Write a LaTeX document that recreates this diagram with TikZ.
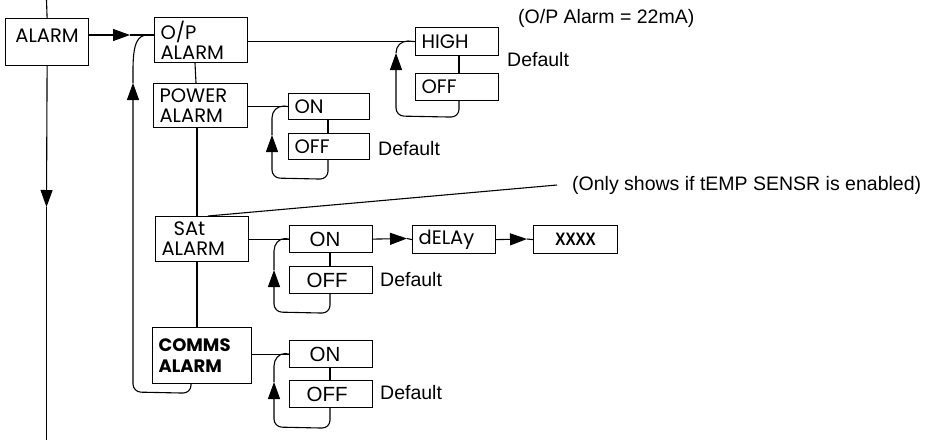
\documentclass[tikz,border=0pt]{standalone}
\usepackage{fontspec}
\setmainfont{Liberation Sans}
\newfontfamily\boxfont{Poppins}
\usetikzlibrary{arrows.meta,calc}
\tikzset{
  box/.style={draw, line width=1.2pt, anchor=north west, inner xsep=6pt, inner ysep=0pt, align=left,
              font=\boxfont\fontsize{19.5}{20}\selectfont},
  onoff/.style={box, font=\fontsize{20.5}{21}\selectfont},
  ln/.style={line width=1.1pt},
  arr/.style={ln, -{Triangle[length=17pt,width=12pt]}},
  note/.style={anchor=west, inner sep=0pt, font=\fontsize{19.5}{22}\selectfont},
}
\begin{document}
\begin{tikzpicture}[x=1pt,y=-1pt]
\useasboundingbox (0,0) rectangle (933,440);
% boxes
\node[box, minimum width=83pt, minimum height=47pt, text width=71pt, align=center] (alarm) at (5,18) {\raisebox{6pt}[\height][\depth]{ALARM}};
\node[box, minimum width=93pt, minimum height=45pt, text width=81pt] (op) at (154,17) {O/P\\ALARM};
\node[box, minimum width=94pt, minimum height=44pt, text width=82pt] (power) at (153,83) {POWER\\ALARM};
\node[box, minimum width=93pt, minimum height=45pt, text width=81pt] (sat) at (155,216) {\hspace*{12pt}SAt\\ALARM};
\node[box, minimum width=99pt, minimum height=56pt, text width=87pt, font=\boxfont\bfseries\fontsize{18}{21}\selectfont] (comms) at (152,327) {COMMS\\ALARM};
\node[box, minimum width=83pt, minimum height=28pt, text width=71pt] (high) at (415,27) {HIGH};
\node[box, minimum width=83pt, minimum height=27pt, text width=71pt] (hoff) at (415,73) {OFF};
\node[box, minimum width=81pt, minimum height=26pt, text width=69pt] (pon) at (288,93) {ON};
\node[box, minimum width=81pt, minimum height=26pt, text width=69pt] (poff) at (288,133) {OFF};
\node[onoff, minimum width=83pt, minimum height=27pt, text width=71pt] (son) at (289,225) {\hspace*{14pt}ON};
\node[onoff, minimum width=83pt, minimum height=27pt, text width=71pt] (soff) at (289,266) {\hspace*{11pt}OFF};
\node[onoff, minimum width=83pt, minimum height=27pt, text width=71pt] (con) at (289,340) {\hspace*{14pt}ON};
\node[onoff, minimum width=83pt, minimum height=27pt, text width=71pt] (coff) at (289,380) {\hspace*{11pt}OFF};
\node[box, minimum width=83pt, minimum height=28pt, text width=71pt] (delay) at (412,225) {dELAy};
\node[box, minimum width=84pt, minimum height=28pt, text width=72pt, align=center, font=\bfseries\fontsize{18}{20}\selectfont] (xxxx) at (533,225) {\scalebox{0.84}[1]{XXXX}};
% notes
\node[note] (n22) at (518,18) {(O/P Alarm = 22mA)};
\node[note] (dhigh) at (507,60) {Default};
\node[note] (dpow) at (378,149) {Default};
\node[note] (dsat) at (380,280) {Default};
\node[note] (dcom) at (380,393) {Default};
\node[note] (nsat) at (572,185) {(Only shows if tEMP SENSR is enabled)};
% main left line
\coordinate (top) at (46.5,0);
\coordinate (dtip) at (46.5,207);
\coordinate (bot) at (46.5,440);
\draw[ln] (top) -- (alarm.north);
\draw[arr] (alarm.south) -- (dtip);
\draw[ln] (dtip) -- (bot);
% alarm -> op
\coordinate (rtip) at (130,35);
\draw[arr] (alarm.east |- rtip) -- (rtip);
\draw[ln] (rtip) -- (op.west |- rtip);
% return loop
\coordinate (utip) at (133,83);
\draw[arr, rounded corners=8pt] ($(comms.south west)+(39,0)$) -- ++(0,9) -- (133,392) -- (utip);
\draw[ln] (utip) -- (133,70) .. controls (133,42) and (138,35) .. (148,35);
% vertical chain
\draw[ln] ($(op.south west)+(41,0)$) -- ($(power.north west)+(43,0)$);
\draw[ln] ($(power.south west)+(44,0)$) -- ($(sat.north west)+(42,0)$);
\draw[ln] ($(sat.south west)+(42,0)$) -- ($(comms.north west)+(45,0)$);
% note line
\draw[ln] ($(sat.north west)+(53,0)$) -- ([xshift=-15pt]nsat.west);
% HIGH / OFF
\draw[ln] (op.east |- high.west) -- (high.west);
\draw[ln] ($(high.south west)+(44,0)$) -- ($(hoff.north west)+(44,0)$);
\coordinate (htip) at (396,53);
\draw[arr, rounded corners=8pt] ($(hoff.south west)+(44,0)$) -- ++(0,16) -- (396,116) -- (htip);
\draw[ln] (htip) .. controls (396,46) and (401,41) .. (408,41) -- (high.west);
% POWER ON / OFF
\draw[ln] (power.east |- pon.west) -- (pon.west);
\draw[ln] ($(pon.south west)+(40,0)$) -- ($(poff.north west)+(40,0)$);
\coordinate (ptip) at (272,135);
\draw[arr, rounded corners=8pt] ($(poff.south west)+(40,0)$) -- ++(0,19) -- (272,178) -- (ptip);
\draw[ln] (ptip) -- (272,118) .. controls (272,111) and (277,106) .. (284,106) -- (pon.west);
% SAt ON / OFF
\draw[ln] (sat.east |- son.west) -- (son.west);
\draw[ln] ($(son.south west)+(41,0)$) -- ($(soff.north west)+(41,0)$);
\coordinate (stip) at (274,270);
\draw[arr, rounded corners=8pt] ($(soff.south west)+(41,0)$) -- ++(0,19) -- (274,312) -- (stip);
\draw[ln] (stip) -- (274,251) .. controls (274,244) and (279,238.5) .. (285,238.5) -- (son.west);
\coordinate (dt1) at (407,238.5);
\draw[arr] (son.east) -- (dt1);
\draw[ln] (dt1) -- (delay.west);
\coordinate (dt2) at (527,239);
\draw[arr] (delay.east) -- (dt2);
\draw[ln] (dt2) -- (xxxx.west);
% COMMS ON / OFF
\draw[ln] (comms.east |- con.west) -- (con.west);
\draw[ln] ($(con.south west)+(41,0)$) -- ($(coff.north west)+(41,0)$);
\coordinate (ctip) at (274,382);
\draw[arr, rounded corners=8pt] ($(coff.south west)+(41,0)$) -- ++(0,20) -- (274,427) -- (ctip);
\draw[ln] (ctip) -- (274,366) .. controls (274,359) and (279,353.5) .. (285,353.5) -- (con.west);
\end{tikzpicture}
\end{document}
